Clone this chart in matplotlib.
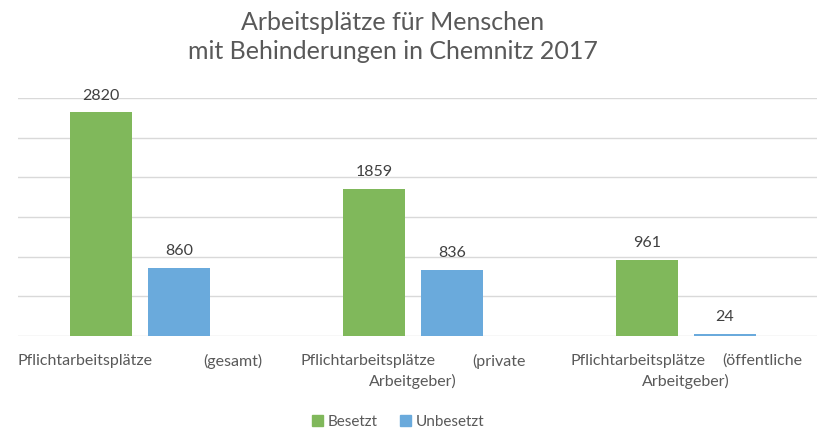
import matplotlib
matplotlib.use("Agg")
import matplotlib.pyplot as plt
from matplotlib.patches import Patch

# data
categories = ["Pflichtarbeitsplätze (gesamt)",
              "Pflichtarbeitsplätze (private Arbeitgeber)",
              "Pflichtarbeitsplätze (öffentliche Arbeitgeber)"]
besetzt = [2820, 1859, 961]
unbesetzt = [860, 836, 24]
series_names = ["Besetzt", "Unbesetzt"]

green = "#80B85B"
blue = "#6AAADC"
text_col = "#595959"
font = "Lato"

plt.rcParams['font.family'] = [font, 'DejaVu Sans']

fig = plt.figure(figsize=(8.17, 4.32), dpi=100)
ax = fig.add_axes([18 / 817, 96 / 432, 799 / 817, 238 / 432])

x = list(range(len(categories)))
w = 0.227
off = 0.142
b1 = ax.bar([i - off for i in x], besetzt, w, color=green, zorder=2)
b2 = ax.bar([i + off for i in x], unbesetzt, w, color=blue, zorder=2)

for bars, vals in ((b1, besetzt), (b2, unbesetzt)):
    for rect, v in zip(bars, vals):
        ax.annotate(str(v), (rect.get_x() + rect.get_width() / 2, v),
                    xytext=(0, 7), textcoords="offset points",
                    ha="center", va="bottom", fontsize=11.5, color="#404040")

ax.set_xlim(-0.447, 2.48)
ax.set_ylim(0, 3000)
ax.set_yticks(range(0, 3001, 500))
ax.set_yticklabels([])
ax.set_xticks([])
ax.tick_params(left=False)
ax.grid(axis="y", color="#d9d9d9", lw=1)
ax.set_axisbelow(True)
for s in ax.spines.values():
    s.set_visible(False)

# category labels, spread out like the original wrapped text
w1_right = [0.044, 0.081, 0.070]
w2_left = [0.231, 0.216, 0.132]
trans = ax.get_xaxis_transform()
for i, cat in enumerate(categories):
    parts = cat.split(" ", 2)
    ax.text(i + w1_right[i], -0.105, parts[0], transform=trans, ha="right",
            va="center", fontsize=11.5, color=text_col, clip_on=False)
    ax.text(i + w2_left[i], -0.105, parts[1], transform=trans, ha="left",
            va="center", fontsize=11.5, color=text_col, clip_on=False)
    if len(parts) > 2:
        ax.text(i, -0.19, parts[2], transform=trans, ha="center",
                va="center", fontsize=11.5, color=text_col, clip_on=False)

fig.text(393 / 817, 1 - 37 / 432, "Arbeitsplätze für Menschen\nmit Behinderungen in Chemnitz 2017",
         ha="center", va="center", fontsize=18, color=text_col, linespacing=1.3)

handles = [Patch(color=green), Patch(color=blue)]
fig.legend(handles, series_names, loc="center", bbox_to_anchor=(398 / 817, 1 - 422 / 432),
           ncol=2, frameon=False, fontsize=11, handlelength=0.7, handleheight=0.7,
           handletextpad=0.3, columnspacing=1.5, labelcolor=text_col)

fig.savefig("out.png", dpi=100)
